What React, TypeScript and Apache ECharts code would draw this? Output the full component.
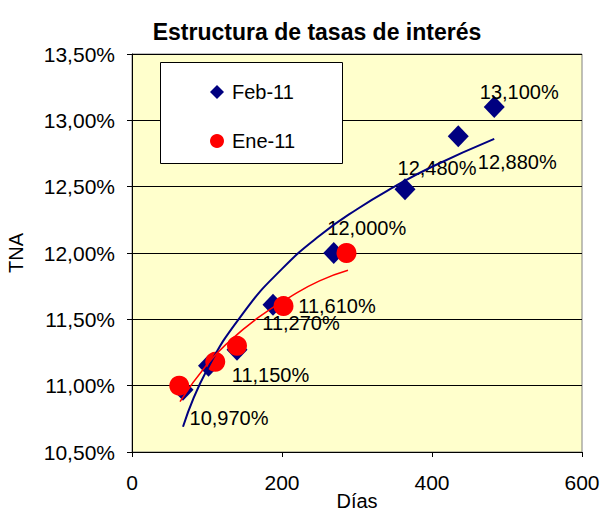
import React, { useEffect, useRef } from "react";
import * as echarts from "echarts";

const titleText = "Estructura de tasas de interés";
const seriesNames = ["Feb-11", "Ene-11"];
const febDays = [68, 102, 140, 188, 269, 364, 435, 483];
const febRates = [10.97, 11.15, 11.27, 11.61, 12.0, 12.48, 12.88, 13.1];
const eneDays = [63, 111, 140, 202, 286];
const eneRates = [11.0, 11.18, 11.3, 11.6, 12.0];
const febTrendDays = [68, 100, 150, 200, 250, 300, 350, 400, 483];
const febTrendRates = [10.69, 11.12, 11.56, 11.88, 12.13, 12.33, 12.5, 12.65, 12.86];
const eneTrendDays = [64, 100, 131, 170, 211, 250, 288];
const eneTrendRates = [10.88, 11.16, 11.34, 11.52, 11.67, 11.79, 11.87];

const labelOffsets = [
  [46, 28],
  [62, 9],
  [64, -27],
  [64, 1],
  [33, -25],
  [32, -21],
  [59, 26],
  [25, -15],
];

const FONT = "Arial, 'Liberation Sans', sans-serif";
const NAVY = "#000080";
const RED = "#FF0000";

const pct = (v: number, d: number) => v.toFixed(d).replace(".", ",") + "%";

export default function App() {
  const ref = useRef<HTMLDivElement>(null);
  useEffect(() => {
    if (!ref.current) return;
    const chart = echarts.init(ref.current, null, { renderer: "svg" });
    chart.setOption({
      animation: false,
      backgroundColor: "#FFFFFF",
      textStyle: { fontFamily: FONT },
      title: {
        text: titleText,
        left: 312,
        textAlign: "center",
        top: 15,
        textStyle: { fontSize: 23, fontWeight: "bold", color: "#000", fontFamily: FONT },
      },
      graphic: [
        {
          type: "rect",
          z: 50,
          shape: { x: 160.5, y: 62.5, width: 182, height: 101 },
          style: { fill: "#FFFFFF", stroke: "#000", lineWidth: 1 },
        },
      ],
      legend: {
        z: 60,
        orient: "vertical",
        left: 205,
        top: 77,
        itemWidth: 14,
        itemHeight: 14,
        itemGap: 29,
        data: seriesNames,
        textStyle: { fontSize: 20, color: "#000", fontFamily: FONT, padding: [0, 0, 0, 3] },
      },
      grid: {
        left: 132,
        top: 54,
        right: 20,
        bottom: 56,
        show: true,
        outerBoundsMode: "none",
        containLabel: false,
        backgroundColor: "#FFFFCC",
        borderColor: "#808080",
        borderWidth: 1,
      },
      xAxis: {
        type: "value",
        min: 0,
        max: 600,
        interval: 200,
        name: "Días",
        nameLocation: "middle",
        nameMoveOverlap: false,
        nameGap: 39,
        nameTextStyle: { fontSize: 20, color: "#000", fontFamily: FONT, verticalAlign: "top" },
        axisLine: { show: true, lineStyle: { color: "#000" } },
        axisTick: { show: true, length: 5, lineStyle: { color: "#000" } },
        axisLabel: { fontSize: 21, color: "#000", margin: 20, fontFamily: FONT },
        splitLine: { show: false },
      },
      yAxis: {
        type: "value",
        min: 10.5,
        max: 13.5,
        interval: 0.5,
        name: "TNA",
        nameLocation: "middle",
        nameGap: 106,
        nameTextStyle: { fontSize: 20, color: "#000", fontFamily: FONT },
        axisLine: { show: true, lineStyle: { color: "#000" } },
        axisTick: { show: true, length: 5, lineStyle: { color: "#000" } },
        axisLabel: {
          fontSize: 21,
          color: "#000",
          margin: 17,
          fontFamily: FONT,
          formatter: (v: number) => pct(v, 2),
        },
        splitLine: { show: true, lineStyle: { color: "#000", width: 1 } },
      },
      series: [
        {
          name: seriesNames[0],
          type: "scatter",
          symbol: "diamond",
          symbolSize: [21, 22],
          itemStyle: { color: NAVY, opacity: 1 },
          z: 3,
          data: febDays.map((d, i) => ({
            value: [d, febRates[i]],
            label: {
              show: true,
              position: "inside",
              offset: labelOffsets[i],
              formatter: pct(febRates[i], 3),
              fontSize: 20,
              color: "#000",
              textBorderWidth: 0,
              textBorderColor: "transparent",
              fontFamily: FONT,
            },
          })),
        },
        {
          name: seriesNames[1],
          type: "scatter",
          symbol: "circle",
          symbolSize: 20,
          itemStyle: { color: RED, opacity: 1 },
          z: 4,
          data: eneDays.map((d, i) => [d, eneRates[i]]),
        },
        {
          name: "febTrend",
          type: "line",
          smooth: true,
          showSymbol: false,
          silent: true,
          z: 5,
          lineStyle: { color: NAVY, width: 2 },
          data: febTrendDays.map((d, i) => [d, febTrendRates[i]]),
        },
        {
          name: "eneTrend",
          type: "line",
          smooth: true,
          showSymbol: false,
          silent: true,
          z: 6,
          lineStyle: { color: RED, width: 1.5 },
          data: eneTrendDays.map((d, i) => [d, eneTrendRates[i]]),
        },
      ],
    });
    return () => chart.dispose();
  }, []);
  return (
    <div
      ref={ref}
      style={{ position: "fixed", left: 0, top: 0, width: 602, height: 508 }}
    />
  );
}
